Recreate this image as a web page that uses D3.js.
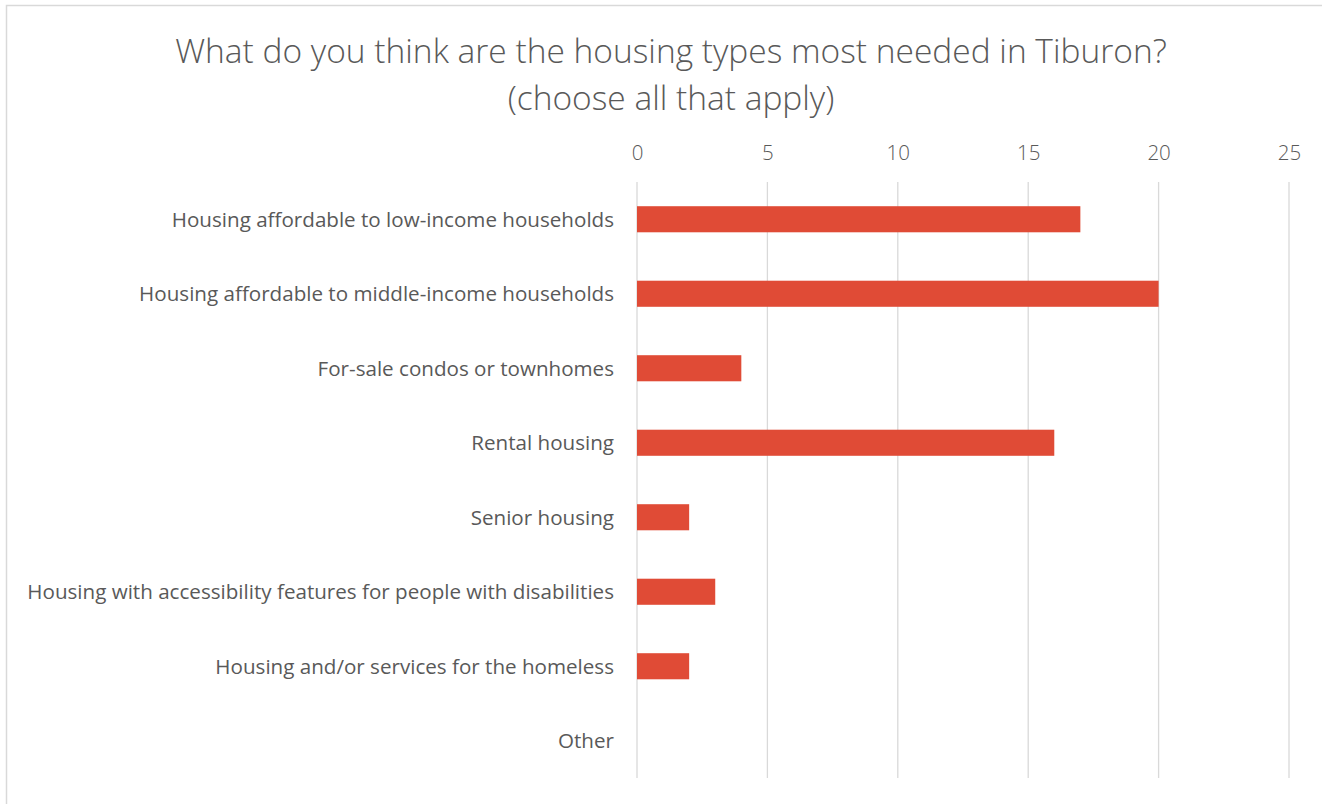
<!DOCTYPE html>
<html><head><meta charset="utf-8">
<script src="https://cdn.jsdelivr.net/npm/d3@7"></script>
<style>body{margin:0;background:#fff}svg{display:block}</style>
</head><body>
<script>
const categories = [
  "Housing affordable to low-income households",
  "Housing affordable to middle-income households",
  "For-sale condos or townhomes",
  "Rental housing",
  "Senior housing",
  "Housing with accessibility features for people with disabilities",
  "Housing and/or services for the homeless",
  "Other"
];
const values = [17, 20, 4, 16, 2, 3, 2, 0];
const tickValues = [0, 5, 10, 15, 20, 25];
const titleLines = ["What do you think are the housing types most needed in Tiburon?", "(choose all that apply)"];

const W = 1322, H = 804;
const font = "'Open Sans', 'Noto Sans', sans-serif";
const svg = d3.select("body").append("svg").attr("width", W).attr("height", H);

svg.append("rect").attr("x", 6.5).attr("y", 5.5).attr("width", W + 10).attr("height", H + 10)
  .attr("fill", "#fff").attr("stroke", "#d9d9d9").attr("stroke-width", 1.5);

const x = d3.scaleLinear().domain([0, 25]).range([637, 1289]);
const y = d3.scaleBand().domain(categories).range([182, 778]).paddingInner(0.65).paddingOuter(0.325);

// title
svg.append("g").selectAll("text").data(titleLines).join("text")
  .attr("x", 671).attr("y", (d, i) => 62.5 + i * 47)
  .attr("text-anchor", "middle").attr("fill", "#595959")
  .style("font-family", font).style("font-weight", 300).style("font-size", "33.5px")
  .text(d => d);

// gridlines
svg.append("g").selectAll("line").data(tickValues).join("line")
  .attr("x1", d => x(d)).attr("x2", d => x(d)).attr("y1", 182).attr("y2", 778)
  .attr("stroke", "#d9d9d9").attr("stroke-width", 1.3);

// top axis
const ax = svg.append("g").attr("transform", "translate(0,160)")
  .call(d3.axisTop(x).tickValues(tickValues).tickSize(0).tickPadding(0));
ax.select(".domain").remove();
ax.selectAll("text").attr("fill", "#595959").style("font-family", font).style("font-weight", 300).style("font-size", "20.5px").attr("dy", "0");

// bars
svg.append("g").selectAll("rect").data(values).join("rect")
  .attr("x", x(0)).attr("y", (d, i) => y(categories[i]))
  .attr("width", d => x(d) - x(0)).attr("height", y.bandwidth())
  .attr("fill", "#E04B36");

// category labels
svg.append("g").selectAll("text").data(categories).join("text")
  .attr("x", 614).attr("y", d => y(d) + y.bandwidth() / 2 + 0.5)
  .attr("dy", "0.35em").attr("text-anchor", "end").attr("fill", "#595959")
  .style("font-family", font).style("font-size", "20.6px")
  .text(d => d);
</script>
</body></html>
